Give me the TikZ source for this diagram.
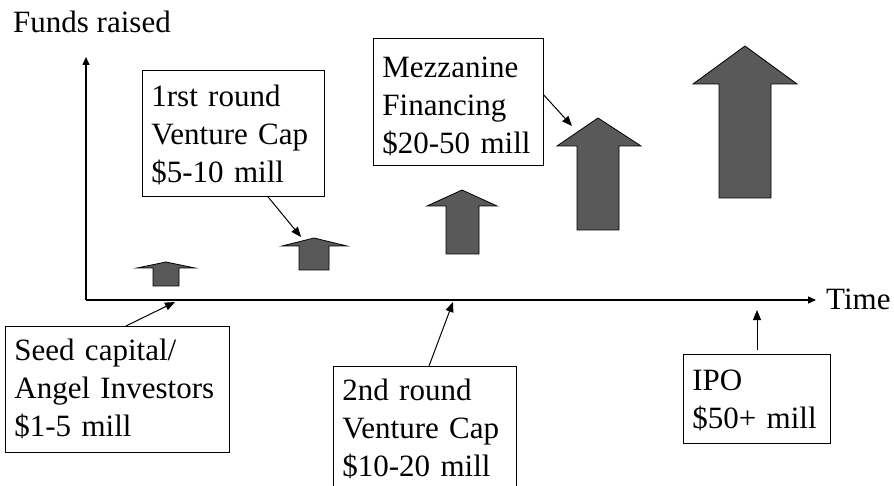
\documentclass[tikz,border=0pt]{standalone}
\usepackage{fontspec}
\setmainfont{Liberation Serif}
\usetikzlibrary{arrows.meta}
\definecolor{barfill}{HTML}{595959}
\newcommand\blockarr[8]{%
  \draw[blockarrow] (#1,#2) -- (#4,#5) -- (#7,#5) -- (#7,#8) -- (#6,#8) -- (#6,#5) -- (#3,#5) -- cycle;}
\tikzset{
  txtbox/.style={draw=black, line width=0.8pt, fill=white, anchor=north west, align=left,
    inner xsep=9pt, inner ysep=0pt, font=\fontsize{31pt}{38pt}\selectfont},
  lbl/.style={inner sep=0pt, anchor=base west, font=\fontsize{31pt}{38pt}\selectfont},
  axisline/.style={line width=1.5pt, -{Triangle[length=8pt,width=7pt]}},
  pointer/.style={line width=1pt, -{Triangle[length=10pt,width=8pt]}},
  blockarrow/.style={fill=barfill, draw=black, line width=0.8pt, line join=miter},
}
\begin{document}
\begin{tikzpicture}[x=1pt,y=-1pt]
\useasboundingbox (0,0) rectangle (894,486);
\clip (0,0) rectangle (894,486);
% axes
\coordinate (origin) at (86,300);
\coordinate (ytip) at (86,57);
\coordinate (xtip) at (816,300);
\draw[axisline] (origin) -- (ytip);
\draw[axisline] (origin) -- (xtip);
\node[lbl] (funds) at (13,33) {Funds raised};
\node[lbl] (time) at (826,309) {Time};
% block arrows
\blockarr{166}{262}{137}{195}{268}{153}{179}{286}
\blockarr{314}{238}{282}{347}{246}{299}{329}{270}
\blockarr{462}{190}{427}{497}{206}{446}{479}{254}
\blockarr{598}{118}{557}{641}{146}{577}{619}{230}
\blockarr{745}{46}{693}{797}{84}{719}{771}{198}
% boxes
\node[txtbox, text width=206pt, minimum height=126pt] (seed) at (5,326)
  {Seed capital/\\Angel Investors\\\$1-5 mill};
\node[txtbox, text width=164pt, minimum height=126pt] (first) at (142,70)
  {\rule{0pt}{24pt}1rst round\\Venture Cap\\\$5-10 mill};
\node[txtbox, text width=152pt, minimum height=127pt] (mezz) at (373,38)
  {\rule{0pt}{29pt}Mezzanine\\Financing\\\$20-50 mill};
\node[txtbox, text width=165pt, minimum height=126pt] (second) at (333,366)
  {2nd round\\Venture Cap\\\$10-20 mill};
\node[txtbox, text width=129pt, minimum height=89pt] (ipo) at (683,354)
  {\rule{0pt}{24pt}IPO\\\$50+ mill};
% pointer targets
\coordinate (seedpt) at (175,302);
\coordinate (firstpt) at (301,237);
\coordinate (secondpt) at (453,302);
\coordinate (mezzpt) at (572,126);
\coordinate (ipopt) at (757,310);
% pointers
\draw[pointer] ([xshift=121pt]seed.north west) -- (seedpt);
\draw[pointer] ([xshift=126pt]first.south west) -- (firstpt);
\draw[pointer] ([xshift=96pt]second.north west) -- (secondpt);
\draw[pointer] ([yshift=-57pt]mezz.north east) -- (mezzpt);
\draw[pointer] ([xshift=74pt,yshift=4pt]ipo.north west) -- (ipopt);
\end{tikzpicture}
\end{document}
